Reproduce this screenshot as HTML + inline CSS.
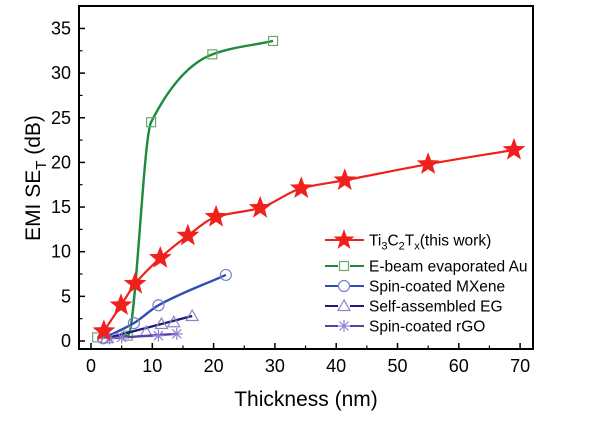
<!DOCTYPE html>
<html><head><meta charset="utf-8"><style>
body{margin:0;background:#fff;}
svg{display:block;font-family:"Liberation Sans",Arial,sans-serif;}
</style></head><body>
<svg id="chart" width="600" height="422"></svg>
<script>
const xTicks=[0,10,20,30,40,50,60,70];
const yTicks=[0,5,10,15,20,25,30,35];
const tiX=[2.1,4.9,7.2,11.3,15.8,20.4,27.6,34.3,41.4,55,69];
const tiY=[1.1,4.0,6.4,9.3,11.8,13.9,14.9,17.1,18.0,19.8,21.4];
const auX=[1.0,6.0,9.8,19.8,29.7];
const auY=[0.4,0.6,24.5,32.1,33.6];
const mxX=[2,7,11,22];
const mxY=[0.3,2.0,4.0,7.4];
const egX=[2.5,9,11.5,13.5,16.5];
const egY=[0.3,1.0,1.9,2.1,2.8];
const goX=[3,5,11,14];
const goY=[0.3,0.4,0.6,0.8];

const NS="http://www.w3.org/2000/svg";
const svg=document.getElementById('chart');
const L=79,R=533,T=6,B=349;
const X=v=>91+v*6.13;
const Y=v=>341-v*8.93;
function el(tag,attrs,parent){const e=document.createElementNS(NS,tag);for(const k in attrs)e.setAttribute(k,attrs[k]);(parent||svg).appendChild(e);return e;}
// monotone cubic (Fritsch-Carlson) in pixel space
function smooth(xs,ys){
  const p=xs.map((x,i)=>[X(x),Y(ys[i])]);
  const n=p.length,d=[],m=[];
  for(let i=0;i<n-1;i++)d.push((p[i+1][1]-p[i][1])/(p[i+1][0]-p[i][0]));
  m[0]=d[0];m[n-1]=d[n-2];
  for(let i=1;i<n-1;i++)m[i]=(d[i-1]*d[i]<=0)?0:2/(1/d[i-1]+1/d[i]);
  let s=`M${p[0][0]},${p[0][1]}`;
  for(let i=0;i<n-1;i++){
    const h=(p[i+1][0]-p[i][0])/3;
    s+=` C${p[i][0]+h},${p[i][1]+m[i]*h} ${p[i+1][0]-h},${p[i+1][1]-m[i+1]*h} ${p[i+1][0]},${p[i+1][1]}`;
  }
  return s;
}
function starPts(cx,cy,r,ri,n){let s=[];for(let i=0;i<2*n;i++){const a=-Math.PI/2+i*Math.PI/n;const rr=i%2?ri:r;s.push((cx+rr*Math.cos(a)).toFixed(1)+','+(cy+rr*Math.sin(a)).toFixed(1));}return s.join(' ');}
function marker(type,cx,cy,g){
  let m;
  if(type==='star') m=el('polygon',{points:starPts(cx,cy,12,5,5),fill:'#f0201c'},g);
  else if(type==='sq') m=el('rect',{x:cx-4.5,y:cy-4.5,width:9,height:9,fill:'none',stroke:'#6aa86f','stroke-width':1.2},g);
  else if(type==='circ') m=el('circle',{cx:cx,cy:cy,r:5.5,fill:'none',stroke:'#7b82c8','stroke-width':1.2},g);
  else if(type==='tri') m=el('polygon',{points:`${cx},${cy-6} ${cx-6},${cy+4.5} ${cx+6},${cy+4.5}`,fill:'none',stroke:'#8a84c8','stroke-width':1.2},g);
  else { m=el('g',{stroke:'#8e7fd0','stroke-width':1.2},g);
    el('line',{x1:cx-6,y1:cy,x2:cx+6,y2:cy},m);el('line',{x1:cx,y1:cy-6,x2:cx,y2:cy+6},m);
    el('line',{x1:cx-4.5,y1:cy-4.5,x2:cx+4.5,y2:cy+4.5},m);el('line',{x1:cx-4.5,y1:cy+4.5,x2:cx+4.5,y2:cy-4.5},m);}
  return m;
}
const frame=el('rect',{x:L,y:T,width:R-L,height:B-T,fill:'none',stroke:'#000','stroke-width':2});


xTicks.forEach(v=>{
  el('line',{x1:X(v),y1:B,x2:X(v),y2:B-6,stroke:'#000','stroke-width':1.5});
  if(X(v+5)<R) el('line',{x1:X(v+5),y1:B,x2:X(v+5),y2:B-3.5,stroke:'#000','stroke-width':1.2});
  const t=el('text',{x:X(v),y:372,'text-anchor':'middle','font-size':18});t.textContent=v;
  
  
});
yTicks.forEach(v=>{
  el('line',{x1:L,y1:Y(v),x2:L+6,y2:Y(v),stroke:'#000','stroke-width':1.5});
  if(Y(v+2.5)>T) el('line',{x1:L,y1:Y(v+2.5),x2:L+3.5,y2:Y(v+2.5),stroke:'#000','stroke-width':1.2});
  const t=el('text',{x:L-8,y:Y(v)+6,'text-anchor':'end','font-size':18});t.textContent=v;
  
  
});
const xt=el('text',{x:306,y:406,'text-anchor':'middle','font-size':21});xt.textContent='Thickness (nm)';


const yt=el('text',{transform:'translate(40,178) rotate(-90)','text-anchor':'middle','font-size':21});
yt.innerHTML='EMI SE<tspan font-size="15" dy="6">T</tspan><tspan dy="-6"> (dB)</tspan>';



const series=[
 {name:'series-au',xs:auX,ys:auY,col:'#1e8a3c',m:'sq'},
 {name:'series-mxene',xs:mxX,ys:mxY,col:'#2d4fb0',m:'circ'},
 {name:'series-eg',xs:egX,ys:egY,col:'#1c1c78',m:'tri'},
 {name:'series-rgo',xs:goX,ys:goY,col:'#5b3fa8',m:'ast'},
 {name:'series-ti3c2tx',xs:tiX,ys:tiY,col:'#f0201c',m:'star'}
];
series.forEach(s=>{
  const g=el('g',{});
  
  
  const lw=s.m==='star'?2.2:2.4;
  if(s.m==='tri'||s.m==='ast'){
    el('path',{d:`M${X(s.xs[0])},${Y(s.ys[0])} L${X(s.xs[s.xs.length-1])},${Y(s.ys[s.ys.length-1])}`,stroke:s.col,'stroke-width':lw,fill:'none'},g);
  } else el('path',{d:smooth(s.xs,s.ys),stroke:s.col,'stroke-width':lw,fill:'none'},g);
  s.xs.forEach((x,i)=>{const m=marker(s.m,X(x),Y(s.ys[i]),g);
    
    });
});
const legend=[['star','#f0201c','Ti<tspan font-size="11" dy="4">3</tspan><tspan dy="-4">C</tspan><tspan font-size="11" dy="4">2</tspan><tspan dy="-4">T</tspan><tspan font-size="11" dy="4">x</tspan><tspan dy="-4">(this work)</tspan>'],
 ['sq','#1e8a3c','E-beam evaporated Au'],['circ','#2d4fb0','Spin-coated MXene'],['tri','#1c1c78','Self-assembled EG'],['ast','#5b3fa8','Spin-coated rGO']];
const ly=[240,266,286,306,326];
legend.forEach((e,i)=>{
  const g=el('g',{});
  
  
  el('line',{x1:325,y1:ly[i],x2:364,y2:ly[i],stroke:e[1],'stroke-width':2},g);
  if(e[0]==='star') el('polygon',{points:starPts(344,ly[i],11,4.5,5),fill:'#f0201c'},g);
  else { el('rect',{x:338,y:ly[i]-6,width:12,height:12,fill:'#fff'},g); marker(e[0],344,ly[i],g);}
  const t=el('text',{x:369,y:ly[i]+5.5,'font-size':15.5},g);t.innerHTML=e[2];
});
</script>
</body></html>
